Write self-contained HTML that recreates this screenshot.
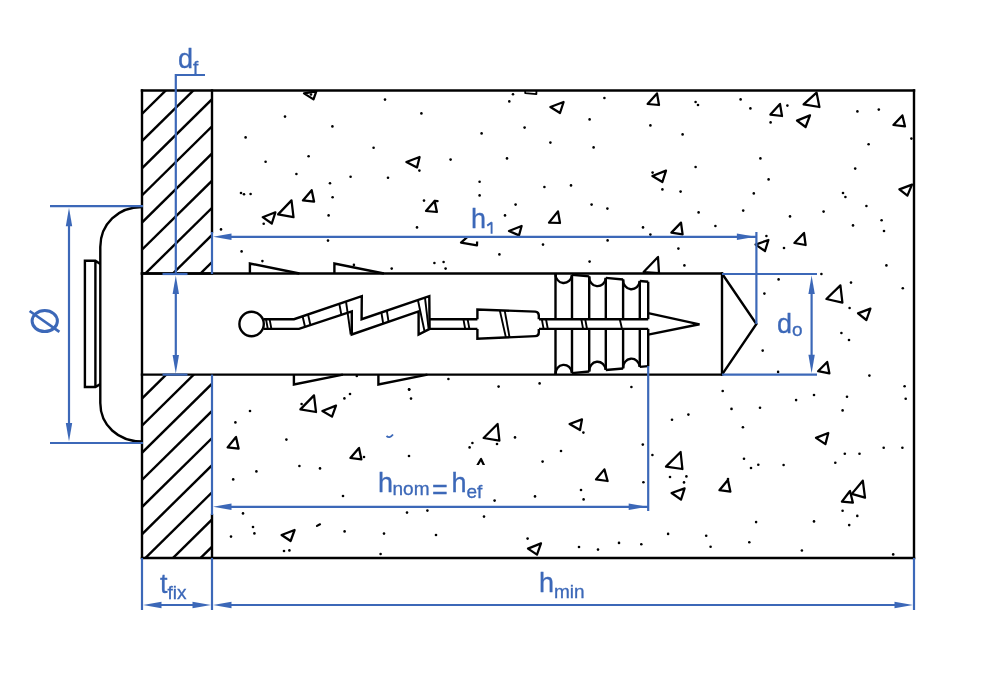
<!DOCTYPE html><html><head><meta charset="utf-8"><style>html,body{margin:0;padding:0;background:#fff;}svg{display:block;will-change:transform;}text{font-family:"Liberation Sans",sans-serif;stroke:#3c68b8;stroke-width:0.3px;}</style></head><body>
<svg width="1000" height="700" viewBox="0 0 1000 700">
<rect width="1000" height="700" fill="#fff"/>
<g fill="#000">
<circle cx="385" cy="99.6" r="1.3"/>
<circle cx="285" cy="116.6" r="1.3"/>
<circle cx="332.4" cy="126.4" r="1.3"/>
<circle cx="245.6" cy="137.4" r="1.3"/>
<circle cx="373.6" cy="147.8" r="1.3"/>
<circle cx="308.6" cy="156.2" r="1.3"/>
<circle cx="265.6" cy="161.8" r="1.3"/>
<circle cx="296.4" cy="174" r="1.3"/>
<circle cx="350.6" cy="176.8" r="1.3"/>
<circle cx="388" cy="177.8" r="1.3"/>
<circle cx="330" cy="183.2" r="1.3"/>
<circle cx="241" cy="193" r="1.3"/>
<circle cx="244" cy="194.2" r="1.3"/>
<circle cx="250.6" cy="194" r="1.3"/>
<circle cx="332.6" cy="197.2" r="1.3"/>
<circle cx="328.6" cy="215.4" r="1.3"/>
<circle cx="263.7" cy="223.8" r="1.3"/>
<circle cx="311" cy="94.5" r="1.3"/>
<circle cx="513" cy="94.2" r="1.3"/>
<circle cx="509.3" cy="101.4" r="1.3"/>
<circle cx="421.4" cy="113.4" r="1.3"/>
<circle cx="589.6" cy="119.4" r="1.3"/>
<circle cx="524.6" cy="127.6" r="1.3"/>
<circle cx="481.6" cy="133.4" r="1.3"/>
<circle cx="550.4" cy="142.6" r="1.3"/>
<circle cx="593.6" cy="147.4" r="1.3"/>
<circle cx="450.6" cy="159.6" r="1.3"/>
<circle cx="507" cy="158.4" r="1.3"/>
<circle cx="419.4" cy="170.6" r="1.3"/>
<circle cx="479.6" cy="181.8" r="1.3"/>
<circle cx="544.4" cy="187" r="1.3"/>
<circle cx="571" cy="185.4" r="1.3"/>
<circle cx="479.6" cy="195.4" r="1.3"/>
<circle cx="424" cy="200.6" r="1.3"/>
<circle cx="515.6" cy="204.6" r="1.3"/>
<circle cx="591.6" cy="204.6" r="1.3"/>
<circle cx="505" cy="215.4" r="1.3"/>
<circle cx="604.4" cy="98" r="1.3"/>
<circle cx="695.6" cy="102" r="1.3"/>
<circle cx="698" cy="105" r="1.3"/>
<circle cx="740.6" cy="99.4" r="1.3"/>
<circle cx="750.4" cy="108.4" r="1.3"/>
<circle cx="787.4" cy="105.6" r="1.3"/>
<circle cx="650.4" cy="125.4" r="1.3"/>
<circle cx="682.6" cy="134.4" r="1.3"/>
<circle cx="770.6" cy="122.4" r="1.3"/>
<circle cx="760.4" cy="158.4" r="1.3"/>
<circle cx="695.6" cy="167" r="1.3"/>
<circle cx="652.6" cy="172.6" r="1.3"/>
<circle cx="768.6" cy="179.4" r="1.3"/>
<circle cx="662.4" cy="189.4" r="1.3"/>
<circle cx="680.6" cy="191.6" r="1.3"/>
<circle cx="753.8" cy="193.4" r="1.3"/>
<circle cx="607.4" cy="208.6" r="1.3"/>
<circle cx="698.6" cy="212.4" r="1.3"/>
<circle cx="743.2" cy="210.6" r="1.3"/>
<circle cx="790" cy="216.4" r="1.3"/>
<circle cx="857.4" cy="111.4" r="1.3"/>
<circle cx="878.8" cy="109.6" r="1.3"/>
<circle cx="868.6" cy="144.2" r="1.3"/>
<circle cx="911.4" cy="138.6" r="1.3"/>
<circle cx="855.2" cy="168.6" r="1.3"/>
<circle cx="843" cy="193" r="1.3"/>
<circle cx="845.4" cy="197" r="1.3"/>
<circle cx="866.4" cy="206" r="1.3"/>
<circle cx="823.6" cy="211.6" r="1.3"/>
<circle cx="881.6" cy="220.2" r="1.3"/>
<circle cx="221" cy="229.4" r="1.3"/>
<circle cx="328" cy="240.6" r="1.3"/>
<circle cx="241.6" cy="251.4" r="1.3"/>
<circle cx="262.4" cy="261.1" r="1.3"/>
<circle cx="353.9" cy="264.9" r="1.3"/>
<circle cx="391.7" cy="268.6" r="1.3"/>
<circle cx="417" cy="227.4" r="1.3"/>
<circle cx="543" cy="244.6" r="1.3"/>
<circle cx="499.4" cy="254.4" r="1.3"/>
<circle cx="434.4" cy="263" r="1.3"/>
<circle cx="443.6" cy="262" r="1.3"/>
<circle cx="445.6" cy="268.6" r="1.3"/>
<circle cx="589.6" cy="261.6" r="1.3"/>
<circle cx="643" cy="227.4" r="1.3"/>
<circle cx="650.4" cy="234.6" r="1.3"/>
<circle cx="607.6" cy="240.4" r="1.3"/>
<circle cx="715.4" cy="226" r="1.3"/>
<circle cx="678.4" cy="248.6" r="1.3"/>
<circle cx="684.4" cy="265.4" r="1.3"/>
<circle cx="766.4" cy="236" r="1.3"/>
<circle cx="784" cy="248" r="1.3"/>
<circle cx="778.6" cy="279.4" r="1.3"/>
<circle cx="853" cy="225.4" r="1.3"/>
<circle cx="884" cy="231" r="1.3"/>
<circle cx="886.4" cy="265.4" r="1.3"/>
<circle cx="821.4" cy="274" r="1.3"/>
<circle cx="851" cy="282.6" r="1.3"/>
<circle cx="902.8" cy="288.2" r="1.3"/>
<circle cx="849.6" cy="308" r="1.3"/>
<circle cx="841.4" cy="333" r="1.3"/>
<circle cx="849" cy="340" r="1.3"/>
<circle cx="764.4" cy="293.6" r="1.3"/>
<circle cx="762.7" cy="350.6" r="1.3"/>
<circle cx="778.1" cy="371.9" r="1.3"/>
<circle cx="869.4" cy="375.6" r="1.3"/>
<circle cx="904.6" cy="386.2" r="1.3"/>
<circle cx="905.7" cy="398.7" r="1.3"/>
<circle cx="722.7" cy="391" r="1.3"/>
<circle cx="814" cy="395" r="1.3"/>
<circle cx="796.1" cy="400.1" r="1.3"/>
<circle cx="847" cy="396.8" r="1.3"/>
<circle cx="731.5" cy="408.9" r="1.3"/>
<circle cx="760" cy="407.8" r="1.3"/>
<circle cx="842.6" cy="410.4" r="1.3"/>
<circle cx="742.9" cy="427.3" r="1.3"/>
<circle cx="883.7" cy="447.8" r="1.3"/>
<circle cx="902.4" cy="447.8" r="1.3"/>
<circle cx="844.8" cy="453.8" r="1.3"/>
<circle cx="859.5" cy="453.8" r="1.3"/>
<circle cx="744" cy="458.8" r="1.3"/>
<circle cx="758.3" cy="464.8" r="1.3"/>
<circle cx="751" cy="468" r="1.3"/>
<circle cx="783.6" cy="465" r="1.3"/>
<circle cx="835.3" cy="462.8" r="1.3"/>
<circle cx="728" cy="479" r="1.3"/>
<circle cx="842.6" cy="510.8" r="1.3"/>
<circle cx="857.3" cy="515.9" r="1.3"/>
<circle cx="849.2" cy="525.1" r="1.3"/>
<circle cx="814" cy="521.4" r="1.3"/>
<circle cx="756.1" cy="522.1" r="1.3"/>
<circle cx="706.2" cy="535.7" r="1.3"/>
<circle cx="710.6" cy="546.7" r="1.3"/>
<circle cx="749.3" cy="542.3" r="1.3"/>
<circle cx="801.9" cy="550.5" r="1.3"/>
<circle cx="893.2" cy="554.4" r="1.3"/>
<circle cx="350" cy="394" r="1.3"/>
<circle cx="344.4" cy="398.4" r="1.3"/>
<circle cx="301.6" cy="404" r="1.3"/>
<circle cx="250" cy="411" r="1.3"/>
<circle cx="235.4" cy="422.4" r="1.3"/>
<circle cx="286.4" cy="439.6" r="1.3"/>
<circle cx="409" cy="389.4" r="1.3"/>
<circle cx="409" cy="456" r="1.3"/>
<circle cx="299.4" cy="466" r="1.3"/>
<circle cx="320" cy="468.4" r="1.3"/>
<circle cx="256.4" cy="471.4" r="1.3"/>
<circle cx="233.2" cy="479.4" r="1.3"/>
<circle cx="343" cy="496" r="1.3"/>
<circle cx="364" cy="457" r="1.3"/>
<circle cx="243" cy="513.4" r="1.3"/>
<circle cx="448.4" cy="379" r="1.3"/>
<circle cx="498.6" cy="386.6" r="1.3"/>
<circle cx="539.6" cy="383.4" r="1.3"/>
<circle cx="411" cy="398.6" r="1.3"/>
<circle cx="515" cy="437.4" r="1.3"/>
<circle cx="472.4" cy="443" r="1.3"/>
<circle cx="469.6" cy="447.4" r="1.3"/>
<circle cx="497" cy="444" r="1.3"/>
<circle cx="561" cy="451" r="1.3"/>
<circle cx="542.6" cy="461.6" r="1.3"/>
<circle cx="583.4" cy="432.6" r="1.3"/>
<circle cx="581" cy="490" r="1.3"/>
<circle cx="583.6" cy="499.4" r="1.3"/>
<circle cx="535" cy="496.4" r="1.3"/>
<circle cx="494.6" cy="500.6" r="1.3"/>
<circle cx="407" cy="512.6" r="1.3"/>
<circle cx="427.4" cy="510.6" r="1.3"/>
<circle cx="631.4" cy="387" r="1.3"/>
<circle cx="672" cy="419.8" r="1.3"/>
<circle cx="688.4" cy="414.6" r="1.3"/>
<circle cx="642.8" cy="444.6" r="1.3"/>
<circle cx="652.4" cy="455" r="1.3"/>
<circle cx="643.4" cy="482.2" r="1.3"/>
<circle cx="670" cy="477" r="1.3"/>
<circle cx="686.4" cy="476.4" r="1.3"/>
<circle cx="684" cy="482.4" r="1.3"/>
<circle cx="253" cy="527" r="1.3"/>
<circle cx="254.4" cy="533.4" r="1.3"/>
<circle cx="231" cy="536.6" r="1.3"/>
<circle cx="344.6" cy="531.4" r="1.3"/>
<circle cx="384" cy="533.6" r="1.3"/>
<circle cx="284" cy="551" r="1.3"/>
<circle cx="289.4" cy="550.4" r="1.3"/>
<circle cx="380.6" cy="554" r="1.3"/>
<circle cx="484" cy="516.6" r="1.3"/>
<circle cx="436" cy="535" r="1.3"/>
<circle cx="527.6" cy="538.6" r="1.3"/>
<circle cx="579" cy="547" r="1.3"/>
<circle cx="598" cy="549.6" r="1.3"/>
<circle cx="619" cy="542.9" r="1.3"/>
<circle cx="641.3" cy="544.3" r="1.3"/>
<circle cx="668.1" cy="533.9" r="1.3"/>
<circle cx="356.8" cy="376" r="1.3"/>
<circle cx="409.3" cy="389.6" r="1.3"/>
</g>
<g fill="none" stroke="#000" stroke-width="2.25" stroke-linejoin="round">
<polygon points="304,93.4 316.3,91.3 313.5,99.4"/>
<polygon points="311.7,190.2 302.9,200.4 314.1,201.7"/>
<polygon points="291.5,200.4 278.1,214.4 293.5,217.2"/>
<polygon points="275.4,212.3 262.7,217.2 271.8,223.5"/>
<polygon points="563.6,102 550.4,107 560,113"/>
<polygon points="419.6,157 406.4,162 417,167.4"/>
<polygon points="434.6,201 426,211 436.9,212"/>
<polygon points="558,211.4 549,222.6 560,223"/>
<polygon points="657,93.4 647.6,104 659,105"/>
<polygon points="780,104 770.4,114.6 782,116"/>
<polygon points="666,170.6 652.4,176 662.4,182"/>
<polygon points="816.6,92.6 803.6,104.4 819.4,107"/>
<polygon points="810,115.4 797,120.6 805.6,127"/>
<polygon points="902.4,115.4 893.4,125 905,126.4"/>
<polygon points="912,184.6 899.4,189.4 907.4,195.6"/>
<polygon points="521.6,226 509,231 519,235.4"/>
<polygon points="681,222.6 671.4,232.6 682.6,234.4"/>
<polygon points="658,257 643.6,272 659,273"/>
<polygon points="768.4,240 755.6,244.6 765,251"/>
<polygon points="804,233 794.4,243 805.6,245"/>
<polygon points="840.4,285.4 826.4,299 842.4,302.6"/>
<polygon points="870.4,308.6 858,313.4 866.4,320"/>
<polygon points="827.2,362 818.1,371.2 829.4,373.4"/>
<polygon points="828.3,433 816,437.9 825.4,444.1"/>
<polygon points="727.9,480 719.4,490.2 730.4,491.7"/>
<polygon points="862.8,480.7 851.8,493.9 865,497.6"/>
<polygon points="850,491 841.9,501.6 852.9,502.7"/>
<polygon points="314,395.4 300.4,409.4 316,412"/>
<polygon points="336,405.6 322.4,411 332,416.6"/>
<polygon points="236,437 227.6,447.4 238.6,448.6"/>
<polygon points="359,448 350.4,458 361.4,459.4"/>
<polygon points="497.6,424 483.6,438 499.4,440.6"/>
<polygon points="582,419.4 569.6,424 580,430"/>
<polygon points="604.4,469.4 596,479.4 607.6,481"/>
<polygon points="680.6,452 666,466.6 682.4,469"/>
<polygon points="684.6,488.4 671.6,493 681,499.6"/>
<polygon points="294.6,530 281.6,535 290.6,541"/>
<polygon points="541,543.4 528,548.6 537,554.6"/>
<line x1="317" y1="525.9" x2="320" y2="524.3" stroke-linecap="round" stroke-width="2.2"/>
<line x1="434.8" y1="200.9" x2="437.6" y2="201.1" stroke-linecap="round" stroke-width="2.2"/>
<path d="M525.2,91 L525.2,93.1 L536.4,94.1 L536.4,91" stroke-width="1.8"/>
<polygon points="477.5,228 461,242.6 477,245.4"/>
<polygon points="481,459 473,473 488,474"/>
</g>
<rect x="457" y="200" width="45" height="38" fill="#fff"/>
<rect x="468" y="237.9" width="16" height="3.6" fill="#fff"/>
<rect x="372" y="465" width="118" height="40" fill="#fff"/>
<path d="M386.5,436 Q389.5,439 393,434.5" fill="none" stroke="#3c68b8" stroke-width="1.8"/>
<defs><clipPath id="cpT"><rect x="142" y="90.5" width="70" height="183"/></clipPath><clipPath id="cpB"><rect x="142" y="374.6" width="70" height="183.4"/></clipPath></defs>
<g clip-path="url(#cpT)" stroke="#000" stroke-width="2.4" fill="none">
<line x1="100" y1="73.82" x2="260" y2="-83.78"/>
<line x1="100" y1="100.97" x2="260" y2="-56.63"/>
<line x1="100" y1="128.12" x2="260" y2="-29.48"/>
<line x1="100" y1="155.27" x2="260" y2="-2.33"/>
<line x1="100" y1="182.42" x2="260" y2="24.82"/>
<line x1="100" y1="209.57" x2="260" y2="51.97"/>
<line x1="100" y1="236.72" x2="260" y2="79.12"/>
<line x1="100" y1="263.87" x2="260" y2="106.27"/>
<line x1="100" y1="291.02" x2="260" y2="133.42"/>
<line x1="100" y1="318.17" x2="260" y2="160.57"/>
<line x1="100" y1="345.32" x2="260" y2="187.72"/>
<line x1="100" y1="372.47" x2="260" y2="214.87"/>
</g>
<g clip-path="url(#cpB)" stroke="#000" stroke-width="2.4" fill="none">
<line x1="100" y1="385.52" x2="260" y2="227.92"/>
<line x1="100" y1="412.67" x2="260" y2="255.07"/>
<line x1="100" y1="439.82" x2="260" y2="282.22"/>
<line x1="100" y1="466.97" x2="260" y2="309.37"/>
<line x1="100" y1="494.12" x2="260" y2="336.52"/>
<line x1="100" y1="521.27" x2="260" y2="363.67"/>
<line x1="100" y1="548.42" x2="260" y2="390.82"/>
<line x1="100" y1="575.57" x2="260" y2="417.97"/>
<line x1="100" y1="602.72" x2="260" y2="445.12"/>
<line x1="100" y1="629.87" x2="260" y2="472.27"/>
<line x1="100" y1="657.02" x2="260" y2="499.42"/>
</g>
<g fill="none" stroke="#000" stroke-width="2.4" stroke-linecap="square">
<polyline points="212.0,273.5 142.0,273.5"/>
<line x1="142.0" y1="90.5" x2="142.0" y2="558.0"/>
<line x1="142.0" y1="90.5" x2="914" y2="90.5"/>
<line x1="914" y1="90.5" x2="914" y2="558.0"/>
<line x1="142.0" y1="558.0" x2="914" y2="558.0"/>
<line x1="212.0" y1="90.5" x2="212.0" y2="232"/>
<line x1="212.0" y1="515" x2="212.0" y2="558.0"/>
<line x1="142.0" y1="273.5" x2="722" y2="273.5"/>
<line x1="142.0" y1="374.6" x2="722" y2="374.6"/>
<line x1="722" y1="273.5" x2="722" y2="374.6"/>
<polyline points="722,273.5 756.4,324 722,374.6" stroke-linecap="butt"/>
</g>
<g fill="none" stroke="#000" stroke-width="2.4" stroke-linejoin="miter">
<polyline points="249.9,273.5 249.9,263.5 299.4,273.5"/>
<polyline points="334.4,273.5 334.4,263.5 383.9,273.5"/>
<polyline points="293.9,374.6 293.9,384.5 342.9,374.6"/>
<polyline points="378.4,374.6 378.4,384.5 427.4,374.6"/>
</g>
<g fill="none" stroke="#000" stroke-width="2.4">
<path d="M142,207 C118,207 100.3,224 100.3,247 L100.3,403 C100.3,425 118,441.5 142,441.5"/>
<path d="M100.3,264.1 L95.4,260.7 L84.9,260.7 L84.9,387 L95.4,387 L100.3,384.1 M95.4,260.7 L95.4,387"/>
</g>
<g fill="none" stroke="#000" stroke-width="2.4" stroke-linejoin="miter" stroke-linecap="butt">
<circle cx="251.6" cy="324" r="12.2" fill="#fff"/>
<polyline points="263.6,319.2 294,319.2 361.8,296.1 361.6,319.2 429.3,296.1 429.6,328.9 418.6,334.6 418.6,311.4 351.8,334.5 351.8,311.4 299,328.9 263.6,328.9"/>
<line x1="266" y1="319.2" x2="267.8" y2="328.9" stroke-width="1.9"/>
<line x1="269.6" y1="319.2" x2="271.4" y2="328.9" stroke-width="1.9"/>
<line x1="302.6" y1="316.2" x2="305" y2="326.8" stroke-width="1.9"/>
<line x1="308" y1="314.3" x2="310.4" y2="325.0" stroke-width="1.9"/>
<line x1="339.3" y1="303.9" x2="341.4" y2="314.9" stroke-width="1.9"/>
<line x1="346.1" y1="302.1" x2="350.7" y2="334.5" stroke-width="1.9"/>
<line x1="381.4" y1="312.5" x2="383.2" y2="323.7" stroke-width="1.9"/>
<line x1="386.8" y1="310.7" x2="388.6" y2="321.9" stroke-width="1.9"/>
<line x1="417.9" y1="300" x2="424.6" y2="331.5" stroke-width="1.9"/>
<line x1="425" y1="297.9" x2="428.6" y2="328.6" stroke-width="1.9"/>
<line x1="463.4" y1="319.2" x2="465.2" y2="328.9" stroke-width="1.9"/>
<line x1="467.6" y1="319.2" x2="469.4" y2="328.9" stroke-width="1.9"/>
<line x1="541.8" y1="319.2" x2="543.6" y2="328.9" stroke-width="1.9"/>
<line x1="546" y1="319.2" x2="547.8" y2="328.9" stroke-width="1.9"/>
<line x1="581.3" y1="319.2" x2="583.1" y2="328.9" stroke-width="1.9"/>
<line x1="585.2" y1="319.2" x2="587" y2="328.9" stroke-width="1.9"/>
<line x1="619.8" y1="319.2" x2="622" y2="328.9" stroke-width="1.9"/>
<line x1="429.6" y1="319.2" x2="477.4" y2="319.2"/>
<line x1="429.6" y1="328.9" x2="477.4" y2="328.9"/>
<path d="M477.4,319.2 L477.4,309.6 L535.3,311.6 Q538.8,311.8 538.8,315.4 L538.8,319.2 M538.8,328.9 L538.8,332.5 Q538.8,336 535.3,336.1 L477.4,338.8 L477.4,328.9"/>
<line x1="499.8" y1="310.4" x2="506" y2="337.9" stroke-width="1.9"/><line x1="504.7" y1="310.6" x2="509.6" y2="337.6" stroke-width="1.9"/>
<line x1="539" y1="319.2" x2="648.2" y2="319.2"/>
<line x1="539" y1="328.9" x2="648.2" y2="328.9"/>
<line x1="555.5" y1="273.30" x2="555.5" y2="319.2"/>
<line x1="555.5" y1="374.60" x2="555.5" y2="328.9"/>
<line x1="572" y1="274.80" x2="572" y2="319.2"/>
<line x1="572" y1="373.10" x2="572" y2="328.9"/>
<line x1="589.2" y1="276.37" x2="589.2" y2="319.2"/>
<line x1="589.2" y1="371.53" x2="589.2" y2="328.9"/>
<line x1="605.8" y1="277.88" x2="605.8" y2="319.2"/>
<line x1="605.8" y1="370.02" x2="605.8" y2="328.9"/>
<line x1="623.1" y1="279.45" x2="623.1" y2="319.2"/>
<line x1="623.1" y1="368.45" x2="623.1" y2="328.9"/>
<line x1="639.8" y1="280.97" x2="639.8" y2="319.2"/>
<line x1="639.8" y1="366.93" x2="639.8" y2="328.9"/>
<line x1="648.2" y1="281.74" x2="648.2" y2="319.2"/>
<line x1="648.2" y1="366.16" x2="648.2" y2="328.9"/>
<path d="M555.5,273.30 A8.25,9 0 0,0 572,274.80"/>
<path d="M555.5,374.60 A8.25,9 0 0,1 572,373.10"/>
<line x1="572" y1="274.80" x2="589.2" y2="276.37"/>
<line x1="572" y1="373.10" x2="589.2" y2="371.53"/>
<path d="M589.2,276.37 A8.30,9 0 0,0 605.8,277.88"/>
<path d="M589.2,371.53 A8.30,9 0 0,1 605.8,370.02"/>
<line x1="605.8" y1="277.88" x2="623.1" y2="279.45"/>
<line x1="605.8" y1="370.02" x2="623.1" y2="368.45"/>
<path d="M623.1,279.45 A8.35,9 0 0,0 639.8,280.97"/>
<path d="M623.1,368.45 A8.35,9 0 0,1 639.8,366.93"/>
<line x1="639.8" y1="280.97" x2="648.2" y2="281.74"/>
<line x1="639.8" y1="366.93" x2="648.2" y2="366.16"/>
<polyline points="648.2,313.2 699.5,324.3 648.2,334.6"/>
</g>
<g fill="none" stroke="#3c68b8" stroke-width="2.2" stroke-linecap="butt">
<polyline points="205,75 175.8,75 175.8,274"/>
<line x1="162.5" y1="274" x2="187.5" y2="274"/>
<line x1="175.8" y1="290" x2="175.8" y2="360"/>
<line x1="162.5" y1="374.6" x2="187.5" y2="374.6"/>
<line x1="50" y1="206.2" x2="143" y2="206.2"/>
<line x1="50" y1="443" x2="143" y2="443"/>
<line x1="69" y1="222" x2="69" y2="427"/>
<line x1="212" y1="232" x2="212" y2="274"/>
<line x1="228" y1="236.8" x2="756.4" y2="236.8"/>
<line x1="756.4" y1="232" x2="756.4" y2="324"/>
<line x1="722" y1="274" x2="817" y2="274"/>
<line x1="722" y1="374.6" x2="817" y2="374.6"/>
<line x1="811.6" y1="290" x2="811.6" y2="359"/>
<line x1="212" y1="374.6" x2="212" y2="515"/>
<line x1="228" y1="506.8" x2="648.2" y2="506.8"/>
<line x1="648.2" y1="366" x2="648.2" y2="511"/>
<line x1="142" y1="558" x2="142" y2="610"/>
<line x1="212" y1="558" x2="212" y2="610"/>
<line x1="914" y1="558" x2="914" y2="610"/>
<line x1="158" y1="605" x2="196" y2="605"/>
<line x1="228" y1="605" x2="898" y2="605"/>
</g>
<polygon points="175.8,275.5 179.00,294.00 172.60,294.00" fill="#3c68b8"/>
<polygon points="175.8,373.4 172.60,354.90 179.00,354.90" fill="#3c68b8"/>
<polygon points="69,207.8 72.20,226.30 65.80,226.30" fill="#3c68b8"/>
<polygon points="69,441.5 65.80,423.00 72.20,423.00" fill="#3c68b8"/>
<polygon points="213,236.8 231.50,233.60 231.50,240.00" fill="#3c68b8"/>
<polygon points="755.4,236.8 736.90,240.00 736.90,233.60" fill="#3c68b8"/>
<polygon points="811.6,275.5 814.80,294.00 808.40,294.00" fill="#3c68b8"/>
<polygon points="811.6,373.3 808.40,354.80 814.80,354.80" fill="#3c68b8"/>
<polygon points="213,506.8 231.50,503.60 231.50,510.00" fill="#3c68b8"/>
<polygon points="647.2,506.8 628.70,510.00 628.70,503.60" fill="#3c68b8"/>
<polygon points="143,605 161.50,601.80 161.50,608.20" fill="#3c68b8"/>
<polygon points="211,605 192.50,608.20 192.50,601.80" fill="#3c68b8"/>
<polygon points="213,605 231.50,601.80 231.50,608.20" fill="#3c68b8"/>
<polygon points="913,605 894.50,608.20 894.50,601.80" fill="#3c68b8"/>
<text x="178" y="68" fill="#3c68b8" font-size="27">d<tspan font-size="19" dy="6">f</tspan></text>
<text x="471" y="228" fill="#3c68b8" font-size="27">h</text>
<path d="M491.6,233.8 L491.6,222.2 M491.9,222.4 L487.2,225.6" fill="none" stroke="#3c68b8" stroke-width="1.9"/>
<text x="777" y="333" fill="#3c68b8" font-size="27">d<tspan font-size="19" dy="3">o</tspan></text>
<text x="539" y="592" fill="#3c68b8" font-size="27">h<tspan font-size="19" dy="6">min</tspan></text>
<text x="160" y="593" fill="#3c68b8" font-size="27">t<tspan font-size="19" dy="6">fix</tspan></text>
<text x="378" y="492" fill="#3c68b8" font-size="27">h<tspan font-size="19" dy="2.5" dx="-0.5">nom</tspan></text>
<text x="432" y="499" fill="#3c68b8" font-size="27">=</text>
<text x="451.5" y="492" fill="#3c68b8" font-size="27">h<tspan font-size="19" dy="6">ef</tspan></text>
<ellipse cx="44.75" cy="321.1" rx="12.65" ry="10.5" fill="none" stroke="#3c68b8" stroke-width="3"/>
<line x1="29.6" y1="311.0" x2="59.4" y2="331.9" stroke="#3c68b8" stroke-width="2.7"/>
</svg></body></html>
